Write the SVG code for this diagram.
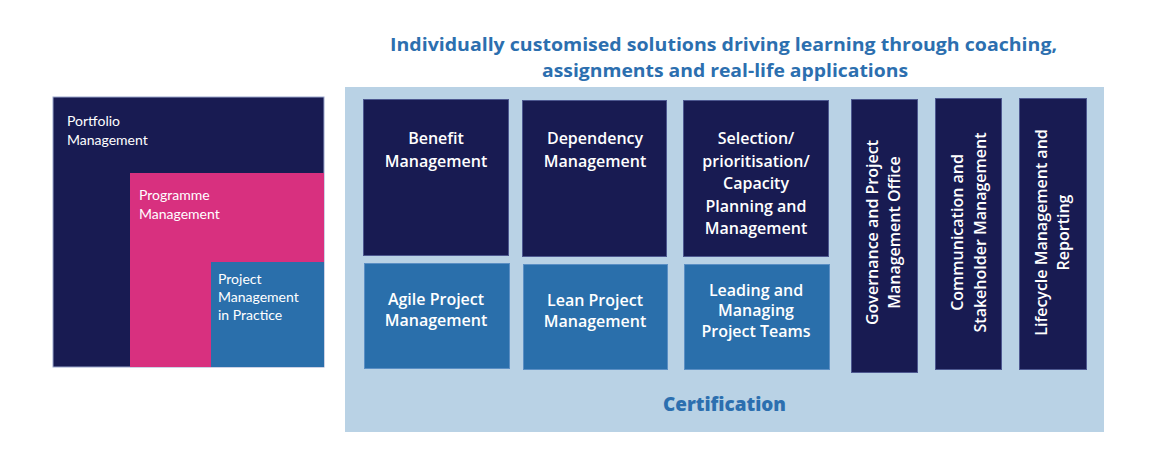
<svg xmlns="http://www.w3.org/2000/svg" width="1170" height="468" viewBox="0 0 1170 468">
<style>
.navy{fill:#181b52;stroke:#4d5890;stroke-width:1}
.blue{fill:#2a6fab;stroke:#5b8fc4;stroke-width:1}
.pink{fill:#d8307f}
.lt{font-family:Lato,"Open Sans",sans-serif;font-size:14px;fill:#ffffff}
.bx{font-family:"Open Sans",Lato,sans-serif;font-weight:600;font-size:16px;fill:#ffffff;text-anchor:middle}
.ttl{font-family:"Open Sans",Lato,sans-serif;font-weight:bold;font-size:18.5px;fill:#2c6faf;text-anchor:middle}
</style>
<rect width="1170" height="468" fill="#ffffff"/>
<g id="left-panel">
<rect x="53" y="97" width="271" height="270" fill="#181b52" stroke="#9aa6cc" stroke-width="1"/>
<rect class="pink" x="130" y="173" width="194" height="194"/>
<rect x="211" y="262" width="113" height="105" fill="#2a6fab"/>
<text class="lt" x="67" y="126">Portfolio</text>
<text class="lt" x="67" y="145">Management</text>
<text class="lt" x="139" y="200">Programme</text>
<text class="lt" x="139" y="219">Management</text>
<text class="lt" x="218" y="284">Project</text>
<text class="lt" x="218" y="302">Management</text>
<text class="lt" x="218" y="320">in Practice</text>
</g>
<g id="title">
<text class="ttl" x="723.5" y="51" textLength="667" lengthAdjust="spacingAndGlyphs">Individually customised solutions driving learning through coaching,</text>
<text class="ttl" x="725" y="77" textLength="366" lengthAdjust="spacingAndGlyphs">assignments and real-life applications</text>
</g>
<g id="main-panel">
<rect x="345" y="87" width="759" height="345" fill="#b9d2e5"/>
<text class="ttl" x="724.5" y="411" style="font-size:20px;font-weight:800" textLength="123" lengthAdjust="spacingAndGlyphs">Certification</text>
</g>
<g id="benefit">
<rect class="navy" x="363.5" y="99.5" width="145" height="156"/>
<text class="bx" x="436" y="144">Benefit</text>
<text class="bx" x="436" y="167">Management</text>
</g>
<g id="dependency">
<rect class="navy" x="522.5" y="100.5" width="144" height="156"/>
<text class="bx" x="595" y="144">Dependency</text>
<text class="bx" x="595" y="167">Management</text>
</g>
<g id="selection">
<rect class="navy" x="683.5" y="100.5" width="145" height="156"/>
<text class="bx" x="756" y="144">Selection/</text>
<text class="bx" x="756" y="167">prioritisation/</text>
<text class="bx" x="756" y="189">Capacity</text>
<text class="bx" x="756" y="212">Planning and</text>
<text class="bx" x="756" y="234">Management</text>
</g>
<g id="agile">
<rect class="blue" x="364.5" y="263.5" width="145" height="105"/>
<text class="bx" x="436" y="305">Agile Project</text>
<text class="bx" x="436" y="326">Management</text>
</g>
<g id="lean">
<rect class="blue" x="523.5" y="264.5" width="144" height="105"/>
<text class="bx" x="595" y="306">Lean Project</text>
<text class="bx" x="595" y="327">Management</text>
</g>
<g id="leading">
<rect class="blue" x="684.5" y="264.5" width="145" height="105"/>
<text class="bx" x="756" y="296">Leading and</text>
<text class="bx" x="756" y="316">Managing</text>
<text class="bx" x="756" y="337">Project Teams</text>
</g>
<g id="governance">
<rect class="navy" x="851.5" y="99.5" width="66" height="273"/>
<text class="bx" transform="translate(878,232.5) rotate(-90)">Governance and Project</text>
<text class="bx" transform="translate(900,232.5) rotate(-90)">Management Office</text>
</g>
<g id="communication">
<rect class="navy" x="935.5" y="98.5" width="66" height="271"/>
<text class="bx" transform="translate(963,232.5) rotate(-90)">Communication and</text>
<text class="bx" transform="translate(986,232.5) rotate(-90)">Stakeholder Management</text>
</g>
<g id="lifecycle">
<rect class="navy" x="1019.5" y="98.5" width="67" height="271"/>
<text class="bx" transform="translate(1047,232.5) rotate(-90)">Lifecycle Management and</text>
<text class="bx" transform="translate(1069,232.5) rotate(-90)">Reporting</text>
</g>
<g id="connectors"></g>
</svg>
